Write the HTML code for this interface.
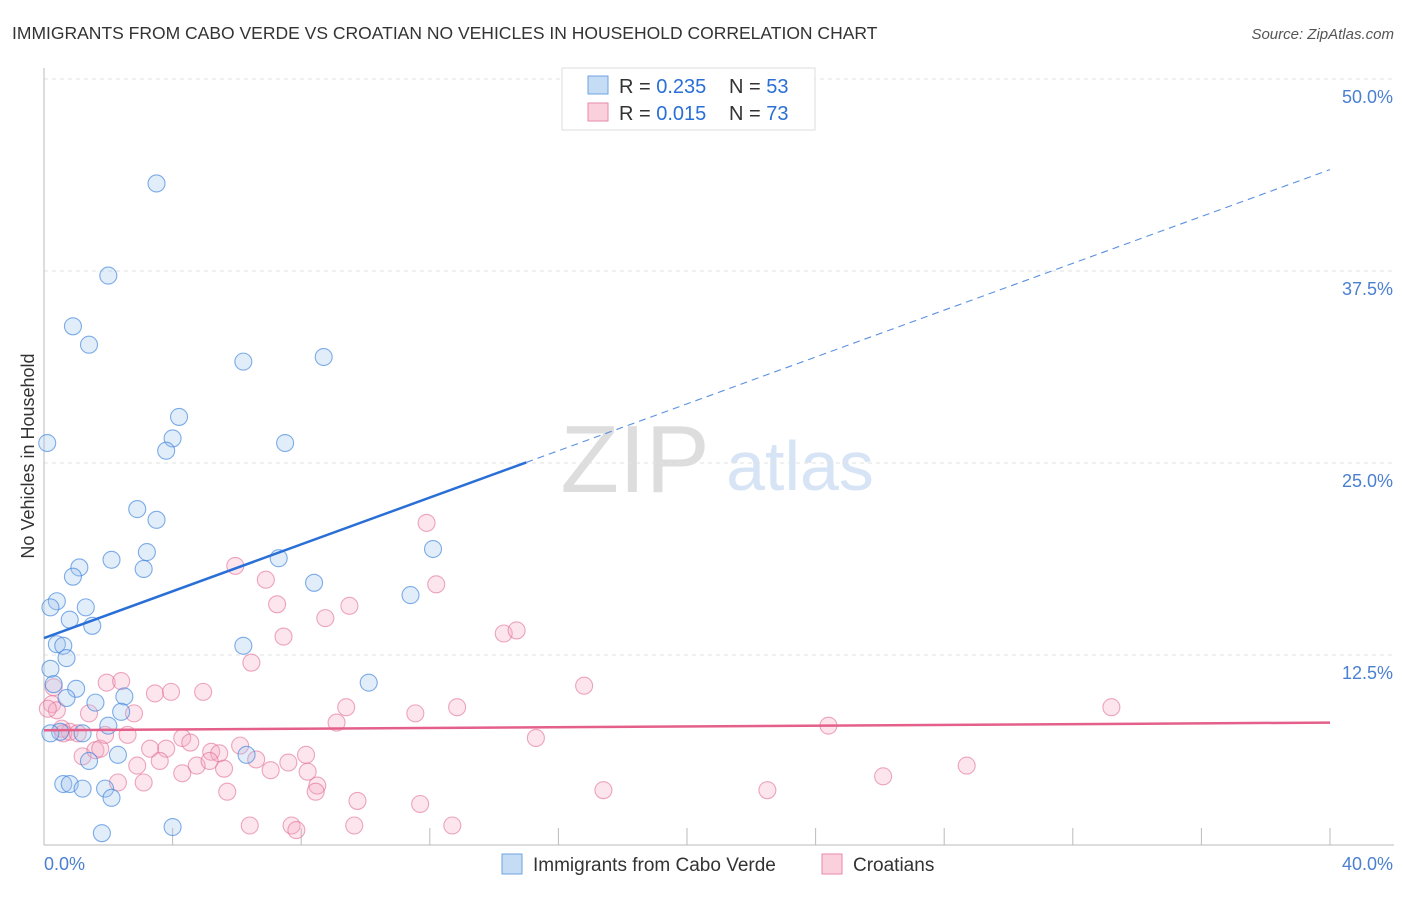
<!DOCTYPE html>
<html><head><meta charset="utf-8"><style>
body{margin:0;background:#fff;font-family:"Liberation Sans",sans-serif}
svg text{font-family:"Liberation Sans",sans-serif}
</style></head><body>
<svg id="c" width="1406" height="892">
<text x="12" y="39" font-size="17.5" fill="#333">IMMIGRANTS FROM CABO VERDE VS CROATIAN NO VEHICLES IN HOUSEHOLD CORRELATION CHART</text>
<text x="1394" y="39" font-size="15" fill="#555" font-style="italic" text-anchor="end">Source: ZipAtlas.com</text>
<text x="34" y="456" font-size="18" fill="#333" transform="rotate(-90 34 456)" text-anchor="middle">No Vehicles in Household</text>
<text x="635" y="492" font-size="96" fill="#ddd" font-family="Liberation Serif" text-anchor="middle">ZIP</text>
<text x="800" y="490" font-size="70" fill="#d6e4f5" text-anchor="middle">atlas</text>
<g id="grid"></g><g id="marks"></g>
<g>
<rect x="562" y="68" width="253" height="62" fill="#fff" stroke="#ddd"/>
<rect x="588" y="76" width="20" height="18" fill="#c5dcf5" stroke="#6fa3e0"/>
<rect x="588" y="103" width="20" height="18" fill="#fad0dc" stroke="#e88aa8"/>
<text x="619" y="93" font-size="20" fill="#333">R = <tspan fill="#2a6fd6">0.235</tspan></text>
<text x="729" y="93" font-size="20" fill="#333">N = <tspan fill="#2a6fd6">53</tspan></text>
<text x="619" y="120" font-size="20" fill="#333">R = <tspan fill="#2a6fd6">0.015</tspan></text>
<text x="729" y="120" font-size="20" fill="#333">N = <tspan fill="#2a6fd6">73</tspan></text>
</g>
<g>
<rect x="502" y="854" width="20" height="20" fill="#c5dcf5" stroke="#6fa3e0"/>
<text x="533" y="871" font-size="19" fill="#333">Immigrants from Cabo Verde</text>
<rect x="822" y="854" width="20" height="20" fill="#fad0dc" stroke="#e88aa8"/>
<text x="853" y="871" font-size="19" fill="#333">Croatians</text>
</g>
</svg>
<script>
const yTicks=[12.5,25,37.5,50];
const yTickLabels=["12.5%","25.0%","37.5%","50.0%"];
const xTicks=[0,4,8,12,16,20,24,28,32,36,40];
const blueX=[3.5,2.0,0.9,1.4,6.2,8.7,4.2,4.0,3.8,7.5,0.1,2.9,3.5,3.2,2.1,3.1,1.1,0.9,7.3,8.4,12.1,11.4,0.4,0.2,1.3,0.8,1.5,0.4,0.6,0.7,6.2,0.2,0.3,1.0,0.7,1.6,2.5,2.4,1.2,2.0,0.5,1.4,2.3,6.3,10.1,0.6,0.8,1.2,1.9,2.1,1.8,4.0,0.2];
const blueY=[43.2,37.2,33.9,32.7,31.6,31.9,28.0,26.6,25.8,26.3,26.3,22.0,21.3,19.2,18.7,18.1,18.2,17.6,18.8,17.2,19.4,16.4,16.0,15.6,15.6,14.8,14.4,13.2,13.1,12.3,13.1,11.6,10.6,10.3,9.7,9.4,9.8,8.8,7.4,7.9,7.5,5.6,6.0,6.0,10.7,4.1,4.1,3.8,3.8,3.2,0.9,1.3,7.4];
const pinkX=[0.3,0.25,0.4,0.55,0.8,0.6,1.05,1.4,1.2,1.6,1.75,1.95,2.4,2.8,2.6,3.45,3.95,4.95,3.3,3.8,2.9,2.3,3.1,3.6,4.3,4.55,5.2,5.45,4.3,4.75,5.15,5.6,5.7,6.1,6.6,6.4,6.45,5.95,6.9,7.25,7.45,7.05,7.6,7.7,7.85,8.15,8.2,8.5,8.45,8.75,9.1,9.4,9.5,9.75,9.65,11.55,11.7,11.9,12.2,12.7,12.85,14.3,14.7,15.3,16.8,17.4,22.5,24.4,26.1,28.7,33.2,0.12,1.9];
const pinkY=[10.4,9.3,8.9,7.7,7.5,7.4,7.4,8.7,5.9,6.3,6.4,10.7,10.8,8.7,7.3,10.0,10.1,10.1,6.4,6.4,5.3,4.2,4.2,5.6,7.1,6.8,6.2,6.1,4.8,5.3,5.6,5.1,3.6,6.6,5.7,1.4,12.0,18.3,17.4,15.8,13.7,5.0,5.5,1.4,1.1,6.0,4.9,4.0,3.6,14.9,8.1,9.1,15.7,3.0,1.4,8.7,2.8,21.1,17.1,1.4,9.1,13.9,14.1,7.1,10.5,3.7,3.7,7.9,4.6,5.3,9.1,9.0,7.3];
const blueTrend=[13.6,44.1], pinkTrend=[7.6,8.1], blueSolidEnd=15;
const NS="http://www.w3.org/2000/svg";
const X=v=>44+v*32.15, Y=v=>847-v*15.36;
const grid=document.getElementById('grid'), marks=document.getElementById('marks');
function mk(p,tag,a){const e=document.createElementNS(NS,tag);for(const k in a)e.setAttribute(k,a[k]);p.appendChild(e);return e;}
yTicks.forEach((t,i)=>{
 const l=mk(grid,'line',{x1:44,x2:1394,y1:Y(t),y2:Y(t),stroke:'#e2e2e2','stroke-dasharray':'4,4'});
 
 
 const tx=mk(grid,'text',{x:1393,y:Y(t)+24,'font-size':18,fill:'#4a80d0','text-anchor':'end'});tx.textContent=yTickLabels[i];
 
 
});
const ax=mk(grid,'line',{x1:44,x2:1394,y1:845,y2:845,stroke:'#bbb'});


const ay=mk(grid,'line',{x1:44,x2:44,y1:68,y2:845,stroke:'#bbb'});


xTicks.forEach(t=>{if(t===0)return;const l=mk(grid,'line',{x1:X(t),x2:X(t),y1:828,y2:845,stroke:'#bbb'});
 
 });
[[0,"0.0%","start",44],[40,"40.0%","end",1393]].forEach(d=>{const tx=mk(grid,'text',{x:d[3],y:870,'font-size':18,fill:'#4a80d0','text-anchor':d[2]});tx.textContent=d[1];
 
 });
function dots(xs,ys,fill,stroke,name){xs.forEach((x,i)=>{const c=mk(marks,'circle',{cx:X(x),cy:Y(ys[i]),r:8.5,fill:fill,stroke:stroke,'stroke-width':1.1});
 
 });}
dots(pinkX,pinkY,'rgba(246,170,195,0.3)','rgba(225,110,150,0.6)','croatian-point');
dots(blueX,blueY,'rgba(160,196,240,0.3)','rgba(60,130,220,0.65)','cabo-verde-point');
const f=t=>blueTrend[0]+(blueTrend[1]-blueTrend[0])*t/40;
const b1=mk(marks,'line',{x1:X(0),y1:Y(f(0)),x2:X(blueSolidEnd),y2:Y(f(blueSolidEnd)),stroke:'#2a6fd6','stroke-width':2.5});


const b2=mk(marks,'line',{x1:X(blueSolidEnd),y1:Y(f(blueSolidEnd)),x2:X(40),y2:Y(f(40)),stroke:'#5a90e0','stroke-width':1.1,'stroke-dasharray':'7,5'});


const p=mk(marks,'line',{x1:X(0),y1:Y(pinkTrend[0]),x2:X(40),y2:Y(pinkTrend[1]),stroke:'#e4608a','stroke-width':2.5});


</script>
</body></html>
